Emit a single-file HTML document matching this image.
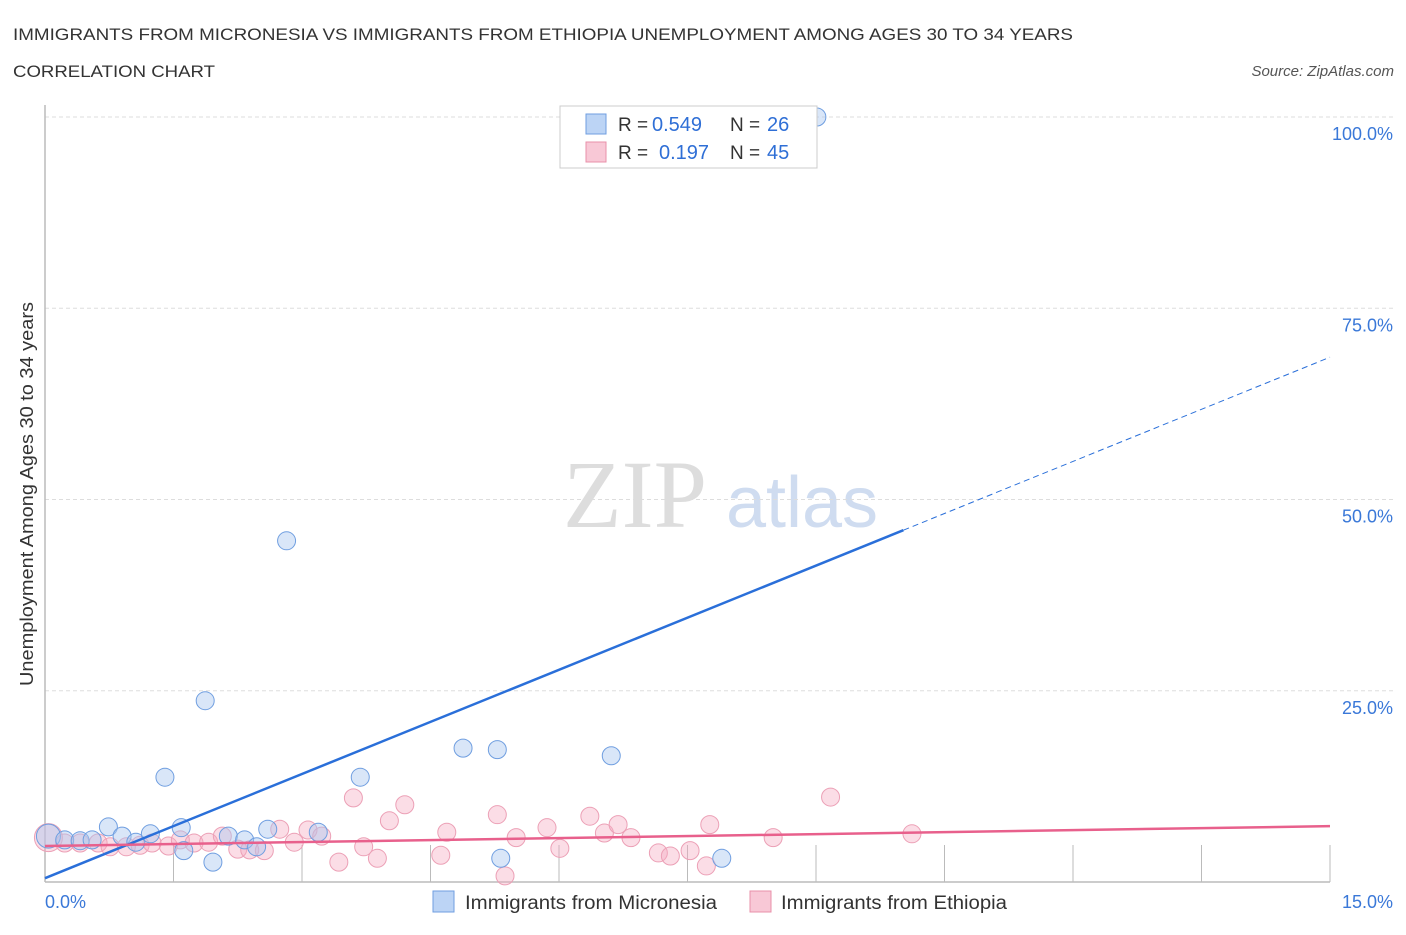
<!DOCTYPE html>
<html><head><meta charset="utf-8"><style>
body{margin:0;background:#fff;font-family:"Liberation Sans",sans-serif;}
</style></head><body>
<svg width="1406" height="930" id="chart" font-family="Liberation Sans, sans-serif">
<text x="13" y="40" font-size="17" fill="#333" textLength="1060" lengthAdjust="spacingAndGlyphs">IMMIGRANTS FROM MICRONESIA VS IMMIGRANTS FROM ETHIOPIA UNEMPLOYMENT AMONG AGES 30 TO 34 YEARS</text>
<text x="13" y="77" font-size="17" fill="#333" textLength="202" lengthAdjust="spacingAndGlyphs">CORRELATION CHART</text>
<text x="1394" y="76" font-size="15" fill="#555" font-style="italic" text-anchor="end">Source: ZipAtlas.com</text>
<text x="33" y="494" font-size="18" fill="#333" text-anchor="middle" transform="rotate(-90 33 494)" textLength="384" lengthAdjust="spacingAndGlyphs">Unemployment Among Ages 30 to 34 years</text>
<text x="635" y="527" font-size="96" fill="#ddd" style="font-family:'Liberation Serif',serif" text-anchor="middle">ZIP</text>
<text x="802" y="527" font-size="72" fill="#cfdcf0" text-anchor="middle">atlas</text>
<g id="grid"></g><g id="pts"></g><g id="lines"></g>
<g>
<rect x="560" y="106" width="257" height="62" fill="#fff" stroke="#ccc"/>
<rect x="586" y="114" width="20" height="20" fill="#bcd4f5" stroke="#6f9ee0"/>
<text x="618" y="131" font-size="19" fill="#333">R =</text>
<text x="652" y="131" font-size="20" fill="#2f6fd6">0.549</text>
<text x="730" y="131" font-size="19" fill="#333">N =</text>
<text x="767" y="131" font-size="20" fill="#2f6fd6">26</text>
<rect x="586" y="142" width="20" height="20" fill="#f8c8d6" stroke="#e890aa"/>
<text x="618" y="159" font-size="19" fill="#333">R =</text>
<text x="659" y="159" font-size="20" fill="#2f6fd6">0.197</text>
<text x="730" y="159" font-size="19" fill="#333">N =</text>
<text x="767" y="159" font-size="20" fill="#2f6fd6">45</text>
</g>
<g>
<rect x="433" y="891" width="21" height="21" fill="#bcd4f5" stroke="#6f9ee0"/>
<text x="465" y="909" font-size="19" fill="#333" textLength="252" lengthAdjust="spacingAndGlyphs">Immigrants from Micronesia</text>
<rect x="750" y="891" width="21" height="21" fill="#f8c8d6" stroke="#e890aa"/>
<text x="781" y="909" font-size="19" fill="#333" textLength="226" lengthAdjust="spacingAndGlyphs">Immigrants from Ethiopia</text>
</g>
</svg>
<script>
const blueX=[0.04,0.23,0.41,0.55,0.74,0.90,1.06,1.23,1.40,1.59,1.62,1.87,1.96,2.14,2.33,2.47,2.60,2.82,3.19,3.68,4.88,5.28,5.32,6.61,7.90,9.01];
const blueY=[6.0,5.5,5.4,5.5,7.2,6.0,5.2,6.3,13.7,7.1,4.1,23.7,2.6,6.0,5.5,4.6,6.9,44.6,6.5,13.7,17.5,17.3,3.1,16.5,3.1,100];
const pinkX=[0.04,0.23,0.41,0.62,0.76,0.95,1.11,1.25,1.44,1.58,1.74,1.91,2.07,2.25,2.39,2.56,2.74,2.91,3.07,3.23,3.43,3.60,3.72,3.88,4.02,4.20,4.69,4.62,5.28,5.50,5.86,6.01,6.36,6.53,6.69,6.84,7.16,7.30,7.53,7.72,7.76,8.50,9.17,10.12,5.37];
const pinkY=[5.8,5.1,5.1,5.1,4.6,4.6,4.8,5.1,4.7,5.5,5.1,5.2,6.0,4.3,4.2,4.1,6.9,5.2,6.8,6.0,2.6,11.0,4.6,3.1,8.0,10.1,6.5,3.5,8.8,5.8,7.1,4.4,8.6,6.4,7.5,5.8,3.8,3.4,4.1,2.1,7.5,5.8,11.1,6.3,0.8];
const yTicks=[25,50,75,100];
const blueTrend=[0.5,68.6];
const pinkTrend=[4.7,7.3];
const NS='http://www.w3.org/2000/svg';
const sx=v=>45+v/15*1285, sy=v=>882-v/100*765;
function mk(t,a,p){const e=document.createElementNS(NS,t);for(const k in a)e.setAttribute(k,a[k]);p.appendChild(e);return e;}
const grid=document.getElementById('grid');
yTicks.forEach(t=>{
 const l=mk('line',{x1:45,x2:1395,y1:sy(t),y2:sy(t),stroke:'#ddd','stroke-dasharray':'4,3'},grid);
 
 
 const tx=mk('text',{x:1393,y:sy(t)+23,'font-size':18,fill:'#3a78d8','text-anchor':'end'},grid);
 tx.textContent=t.toFixed(1)+'%';
 
 
});
const ax=mk('line',{x1:45,x2:1330,y1:882,y2:882,stroke:'#bbb','stroke-width':1.5},grid);


const ay=mk('line',{x1:45,x2:45,y1:105,y2:882,stroke:'#bbb','stroke-width':1.5},grid);


for(let i=1;i<=10;i++){const t=mk('line',{x1:sx(i*1.5),x2:sx(i*1.5),y1:845,y2:882,stroke:'#bbb'},grid);
 
 }
[['0.0%',45,'start'],['15.0%',1393,'end']].forEach(([s,x,a])=>{const t=mk('text',{x:x,y:908,'font-size':18,fill:'#3a78d8','text-anchor':a},grid);t.textContent=s;
 
 });
const pts=document.getElementById('pts');
pinkX.forEach((x,i)=>{const c=mk('circle',{cx:sx(x),cy:sy(pinkY[i]),r:i==0?14:9,fill:'rgba(244,170,192,0.4)',stroke:'#eca0b6'},pts);
 
 });
blueX.forEach((x,i)=>{const c=mk('circle',{cx:sx(x),cy:sy(blueY[i]),r:i==0?12:9,fill:'rgba(170,200,240,0.45)',stroke:'#6f9ee0'},pts);
 
 });
const lines=document.getElementById('lines');
const bAt=x=>blueTrend[0]+(blueTrend[1]-blueTrend[0])*x/15;
const b1=mk('line',{x1:sx(0),y1:sy(bAt(0)),x2:sx(10.02),y2:sy(bAt(10.02)),stroke:'#2a6fd9','stroke-width':2.5},lines);


const b2=mk('line',{x1:sx(10.02),y1:sy(bAt(10.02)),x2:sx(15),y2:sy(bAt(15)),stroke:'#2a6fd9','stroke-width':1,'stroke-dasharray':'6,4'},lines);


const p1=mk('line',{x1:sx(0),y1:sy(pinkTrend[0]),x2:sx(15),y2:sy(pinkTrend[1]),stroke:'#e8608c','stroke-width':2.5},lines);


</script>
</body></html>
